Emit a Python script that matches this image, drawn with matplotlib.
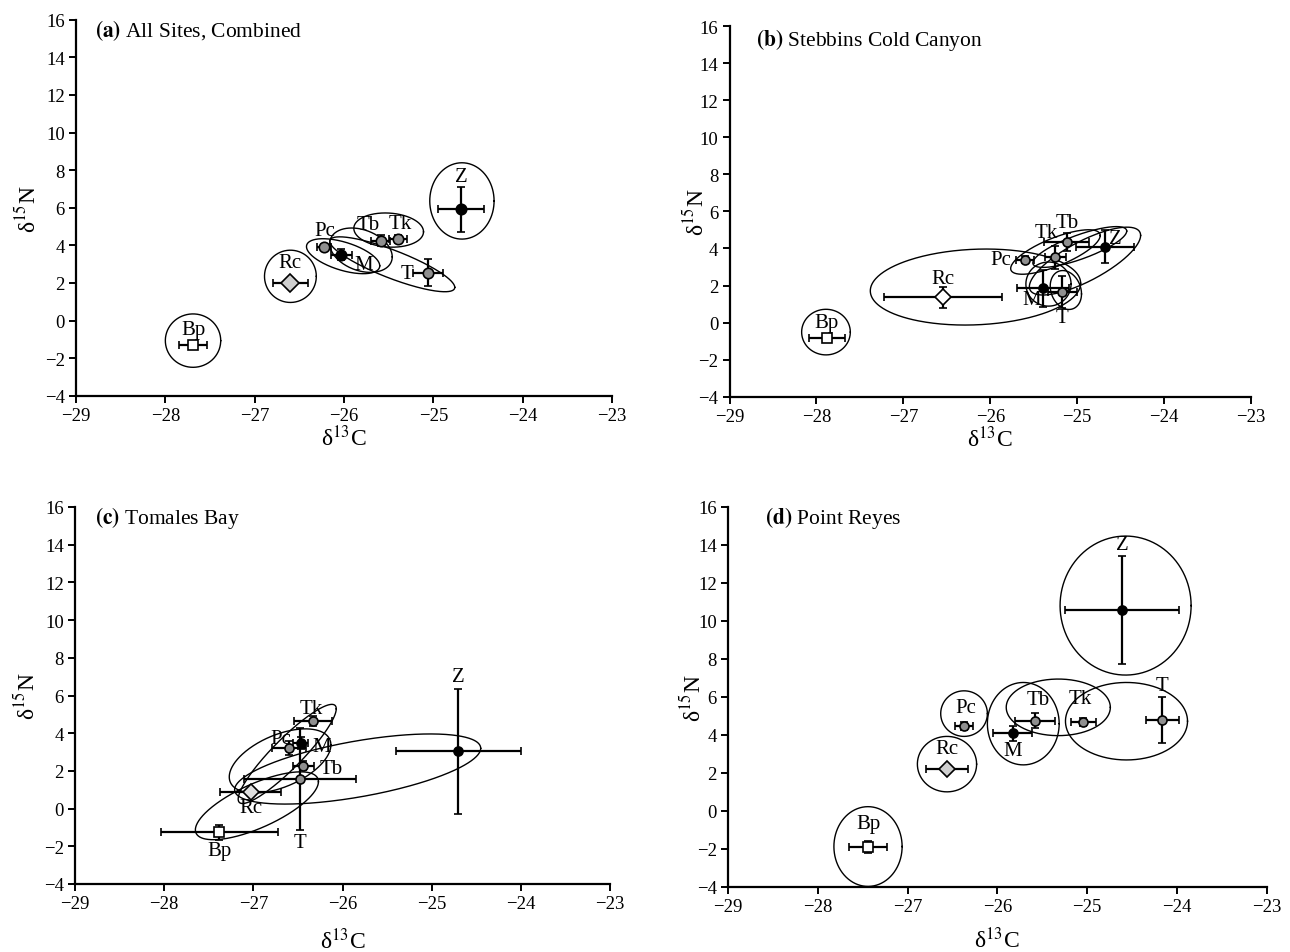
import numpy as np
import matplotlib
matplotlib.use("Agg")
import matplotlib.pyplot as plt

plt.rcParams["font.family"] = ["Liberation Serif", "DejaVu Serif"]
plt.rcParams["mathtext.fontset"] = "stix"

species = ["Bp", "Rc", "Pc", "M", "Tb", "Tk", "T", "Z"]
x_ticks = [-29, -28, -27, -26, -25, -24, -23]
y_ticks = [-4, -2, 0, 2, 4, 6, 8, 10, 12, 14, 16]

# ---------------- (a) All Sites, Combined ----------------
a_c13 = [-27.69, -26.60, -26.22, -26.03, -25.59, -25.40, -25.06, -24.69]
a_n15 = [-1.28, 2.00, 3.92, 3.51, 4.24, 4.33, 2.53, 5.91]
a_c13_sd = [0.16, 0.20, 0.08, 0.12, 0.11, 0.10, 0.17, 0.26]
a_n15_sd = [0.12, 0.15, 0.15, 0.30, 0.30, 0.20, 0.72, 1.19]
# ellipses: centre x, centre y, half-range x, half-range y, correlation
a_ell_cx = [-27.69, -26.60, -26.01, -25.81, -25.50, -25.46, -24.68]
a_ell_cy = [-1.07, 2.35, 3.42, 3.74, 4.81, 2.99, 6.36]
a_ell_rx = [0.31, 0.29, 0.41, 0.35, 0.39, 0.70, 0.36]
a_ell_ry = [1.42, 1.39, 0.93, 1.18, 0.91, 1.46, 2.03]
a_ell_r = [0.0, 0.0, -0.55, -0.30, -0.10, -0.84, 0.0]

# ---------------- (b) Stebbins Cold Canyon ----------------
b_c13 = [-27.88, -26.54, -25.60, -25.39, -25.12, -25.25, -25.17, -24.68]
b_n15 = [-0.83, 1.36, 3.39, 1.85, 4.36, 3.52, 1.67, 4.09]
b_c13_sd = [0.21, 0.68, 0.10, 0.30, 0.26, 0.12, 0.17, 0.33]
b_n15_sd = [0.20, 0.56, 0.20, 0.99, 0.50, 0.63, 0.87, 0.90]
b_ell_cx = [-27.89, -26.17, -25.25, -25.33, -24.97, -25.13, -24.91]
b_ell_cy = [-0.51, 1.92, 3.81, 2.08, 4.08, 1.76, 3.32]
b_ell_rx = [0.28, 1.21, 0.515, 0.26, 0.54, 0.18, 0.64]
b_ell_ry = [1.23, 2.05, 1.20, 1.19, 1.10, 1.05, 1.83]
b_ell_r = [0.0, 0.10, 0.74, 0.0, 0.78, -0.20, 0.756]

# ---------------- (c) Tomales Bay ----------------
c_c13 = [-27.38, -27.03, -26.60, -26.47, -26.44, -26.33, -26.48, -24.70]
c_n15 = [-1.26, 0.86, 3.20, 3.48, 2.28, 4.65, 1.55, 3.04]
c_c13_sd = [0.66, 0.34, 0.19, 0.08, 0.12, 0.21, 0.63, 0.70]
c_n15_sd = [0.41, 0.20, 0.37, 0.30, 0.25, 0.25, 2.70, 3.33]
c_ell_cx = [-26.96, -26.70, -26.62, -25.83]
c_ell_cy = [0.15, 2.53, 2.90, 2.10]
c_ell_rx = [0.69, 0.57, 0.55, 1.38]
c_ell_ry = [1.80, 1.70, 2.63, 1.86]
c_ell_r = [0.71, 0.50, 0.91, 0.59]

# ---------------- (d) Point Reyes ----------------
d_c13 = [-27.44, -26.56, -26.37, -25.83, -25.58, -25.04, -24.16, -24.61]
d_n15 = [-1.91, 2.20, 4.48, 4.09, 4.74, 4.69, 4.78, 10.58]
d_c13_sd = [0.21, 0.23, 0.10, 0.22, 0.22, 0.14, 0.18, 0.635]
d_n15_sd = [0.30, 0.20, 0.20, 0.39, 0.39, 0.20, 1.19, 2.83]
d_ell_cx = [-27.44, -26.56, -26.37, -25.71, -25.32, -24.56, -24.57]
d_ell_cy = [-1.88, 2.46, 5.12, 4.59, 5.45, 4.72, 10.81]
d_ell_rx = [0.38, 0.33, 0.26, 0.40, 0.58, 0.68, 0.73]
d_ell_ry = [2.10, 1.46, 1.20, 2.17, 1.49, 2.04, 3.66]
d_ell_r = [0.0, 0.0, 0.0, 0.0, 0.0, 0.0, 0.0]

# ---------------- styling ----------------
marker_of = {"Bp": "s", "Rc": "D", "Pc": "o", "M": "o", "Tb": "o", "Tk": "o", "T": "o", "Z": "o"}
face_of = {"Bp": "white", "Pc": "#8f8f8f", "M": "black", "Tb": "#8f8f8f",
           "Tk": "#8f8f8f", "T": "#8f8f8f", "Z": "black"}

W, H = 1290, 953
fig = plt.figure(figsize=(W / 100, H / 100), dpi=100)


def rect(l, r, t, b):
    return [l / W, 1 - b / H, (r - l) / W, (b - t) / H]


panels = [
    dict(rect=rect(76, 612, 20.7, 396.7), title="(a)", name=" All Sites, Combined",
         c=a_c13, n=a_n15, cs=a_c13_sd, ns=a_n15_sd,
         ell=(a_ell_cx, a_ell_cy, a_ell_rx, a_ell_ry, a_ell_r),
         rc="#cfcfcf", ms=7.5, title_xy=(0.035, 0.975), ylab_x=-0.066, xlab_y=-0.077,
         offs={"Bp": (0, 15), "Rc": (0, 20), "Pc": (0, 16), "M": (22, -10),
               "Tb": (-12, 16), "Tk": (3, 16), "T": (-21, -1), "Z": (0, 33)}),
    dict(rect=rect(729.5, 1251, 27, 397.8), title="(b)", name=" Stebbins Cold Canyon",
         c=b_c13, n=b_n15, cs=b_c13_sd, ns=b_n15_sd,
         ell=(b_ell_cx, b_ell_cy, b_ell_rx, b_ell_ry, b_ell_r),
         rc="white", ms=6.5, title_xy=(0.05, 0.965), ylab_x=-0.04, xlab_y=-0.077,
         offs={"Bp": (0, 16), "Rc": (0, 19), "Pc": (-24, 0), "M": (-12, -11),
               "Tb": (0, 19), "Tk": (-9, 25), "T": (0, -26), "Z": (10, 8)}),
    dict(rect=rect(75, 610, 508, 885), title="(c)", name=" Tomales Bay",
         c=c_c13, n=c_n15, cs=c_c13_sd, ns=c_n15_sd,
         ell=(c_ell_cx, c_ell_cy, c_ell_rx, c_ell_ry, c_ell_r),
         rc="#e0e0e0", ms=6.5, title_xy=(0.037, 0.973), ylab_x=-0.066, xlab_y=-0.115,
         offs={"Bp": (0, -18), "Rc": (0, -15), "Pc": (-8, 10), "M": (21, -3),
               "Tb": (28, -3), "Tk": (-2, 12), "T": (0, -63), "Z": (0, 75)}),
    dict(rect=rect(728, 1266.5, 508, 887.8), title="(d)", name=" Point Reyes",
         c=d_c13, n=d_n15, cs=d_c13_sd, ns=d_n15_sd,
         ell=(d_ell_cx, d_ell_cy, d_ell_rx, d_ell_ry, d_ell_r),
         rc="#cfcfcf", ms=6.5, title_xy=(0.069, 0.974), ylab_x=-0.042, xlab_y=-0.105,
         offs={"Bp": (0, 24), "Rc": (0, 21), "Pc": (2, 18), "M": (0, -17),
               "Tb": (3, 21), "Tk": (-3, 23), "T": (0, 35), "Z": (0, 65)}),
]

t = np.linspace(0, 2 * np.pi, 400)

for p in panels:
    ax = fig.add_axes(p["rect"])
    ax.set_xlim(-29, -23)
    ax.set_ylim(-4, 16)
    ax.set_xticks(x_ticks)
    ax.set_yticks(y_ticks)
    for s in ("top", "right"):
        ax.spines[s].set_visible(False)
    for s in ("left", "bottom"):
        ax.spines[s].set_linewidth(1.6)
    ax.tick_params(direction="out", length=5, width=1.4, labelsize=13.5, pad=3)
    ax.set_xlabel("δ$^{13}$C", fontsize=17)
    ax.set_ylabel("δ$^{15}$N", fontsize=17)
    ax.xaxis.set_label_coords(0.5, p["xlab_y"])
    ax.yaxis.set_label_coords(p["ylab_x"], 0.5)

    # ellipses
    cx, cy, rx, ry, rr = p["ell"]
    for i in range(len(cx)):
        alpha = np.arccos(rr[i])
        ex = cx[i] + rx[i] * np.cos(t)
        ey = cy[i] + ry[i] * np.cos(t - alpha)
        ax.plot(ex, ey, color="black", lw=1.0, zorder=2)

    # points with error bars
    for i, sp in enumerate(species):
        fc = p["rc"] if sp == "Rc" else face_of[sp]
        ms = p["ms"] + (1.5 if sp == "Rc" else 0)
        ax.errorbar(p["c"][i], p["n"][i], xerr=p["cs"][i], yerr=p["ns"][i],
                    fmt=marker_of[sp], color="black", mfc=fc, mec="black",
                    mew=1.2, ms=ms, elinewidth=1.6, capsize=3.2, capthick=1.6,
                    zorder=4)
        ax.annotate(sp, (p["c"][i], p["n"][i]), xytext=p["offs"][sp],
                    textcoords="offset pixels", ha="center", va="center",
                    fontsize=15, zorder=3)

    ax.text(p["title_xy"][0], p["title_xy"][1],
            r"$\mathbf{" + p["title"] + "}$" + p["name"],
            transform=ax.transAxes, ha="left", va="center", fontsize=15.5)

fig.savefig("out.png", dpi=100)
